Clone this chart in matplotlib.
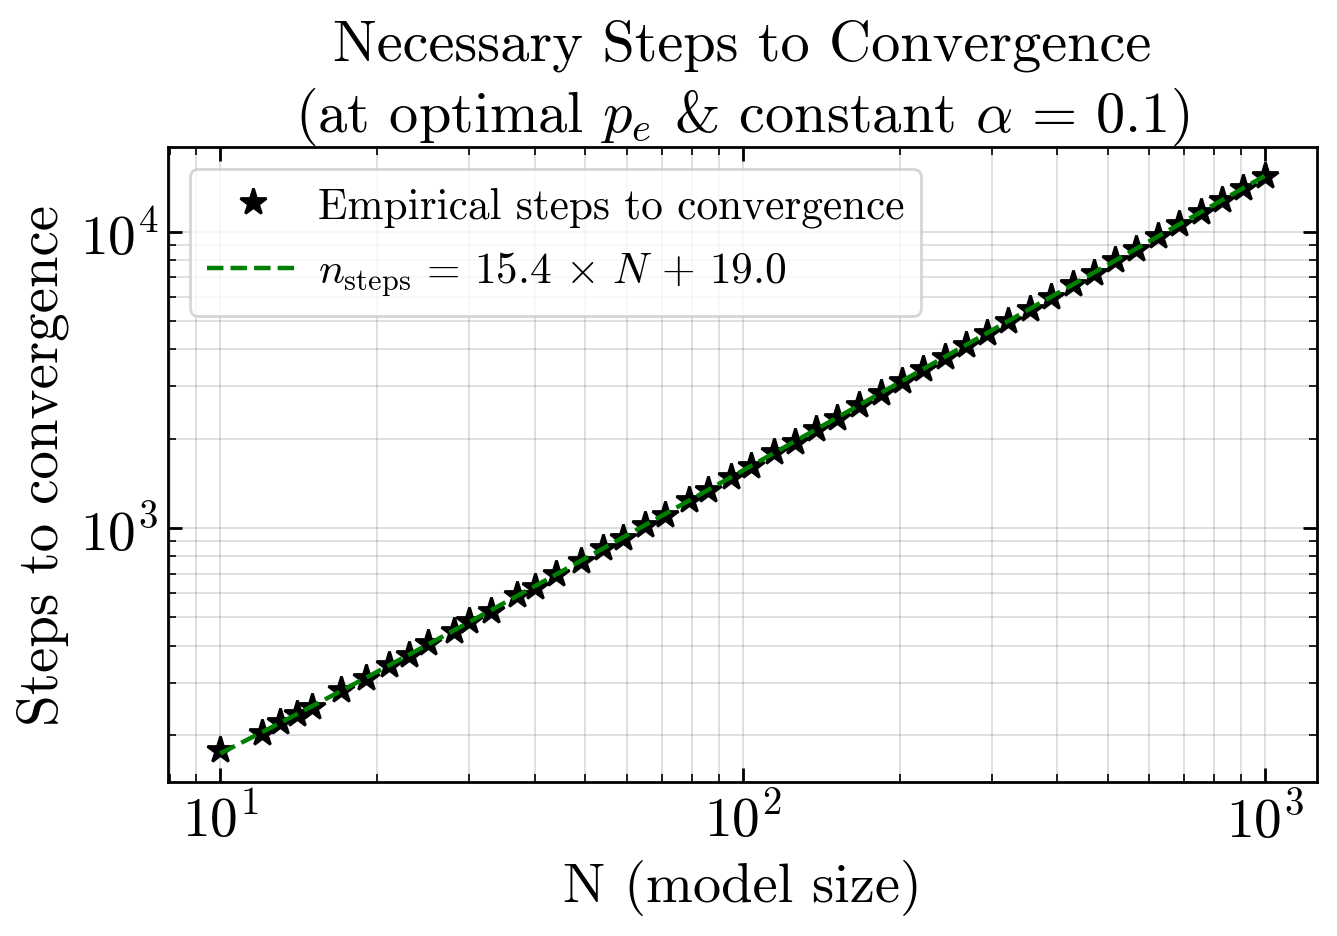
import numpy as np
import matplotlib
matplotlib.use("Agg")
import matplotlib.pyplot as plt

# ---- data ----
N_values = [10, 12, 13, 14, 15, 17, 19, 21, 23, 25, 28, 30, 33, 37, 40, 44, 49,
            54, 59, 65, 71, 79, 86, 95, 104, 115, 126, 138, 152, 167, 184, 202,
            222, 244, 268, 294, 323, 355, 390, 429, 471, 517, 568, 625, 686,
            754, 828, 910, 1000]
steps = [178, 203, 221, 236, 248, 283, 310, 344, 371, 407, 447, 484, 523, 592,
         632, 700, 770, 855, 925, 1024, 1108, 1240, 1338, 1488, 1615, 1796, 1952,
         2150, 2352, 2598, 2845, 3138, 3430, 3785, 4138, 4556, 4985, 5495, 6015,
         6640, 7262, 7995, 8752, 9660, 10570, 11650, 12750, 14050, 15400]
slope = 15.4
intercept = 19.0

plt.rcParams.update({
    "font.family": "serif",
    "font.serif": ["cmr10"],
    "mathtext.fontset": "cm",
    "axes.formatter.use_mathtext": True,
    "axes.unicode_minus": False,
    "axes.linewidth": 1.0,
})

fig = plt.figure(figsize=(1337 / 200, 937 / 200), dpi=200)
ax = fig.add_axes([0.1257, 0.164, 0.8593, 0.678])

N_arr = np.array(N_values, dtype=float)
ax.plot(N_values, steps, linestyle="none", marker="*", color="black",
        markersize=10, label="Empirical steps to convergence")
ax.plot(N_arr, slope * N_arr + intercept, "--", color="green", lw=1.6,
        label=r"$n_{\mathrm{steps}}\,=\,%.1f\,\times\,N\,+\,%.1f$" % (slope, intercept))

ax.set_xscale("log")
ax.set_yscale("log")

ax.grid(True, which="both", color="gray", alpha=0.3, lw=0.6)
ax.tick_params(which="both", direction="in", top=True, right=True, labelsize=20)
ax.tick_params(which="major", length=5, width=1.0)
ax.tick_params(which="minor", length=3, width=0.6)

ax.set_xlabel("N (model size)", fontsize=20.3)
ax.set_ylabel("Steps to convergence", fontsize=20.5)
ax.set_title("Necessary Steps to Convergence\n"
             r"(at optimal $p_e$ & constant $\alpha\,=\,0.1$)", fontsize=21,
             linespacing=1.3, pad=5)

leg = ax.legend(loc="upper left", fontsize=15.6, frameon=True, fancybox=True,
                handlelength=2.1, handletextpad=0.45, labelspacing=0.55)

fig.savefig("out.png", dpi=200)
